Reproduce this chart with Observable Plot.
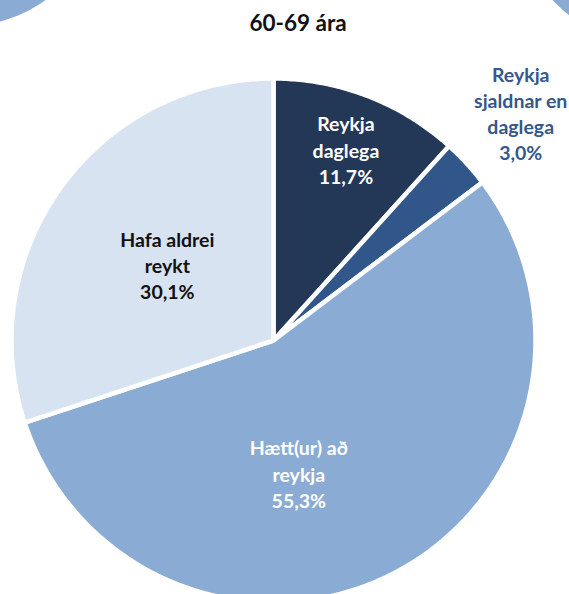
<!DOCTYPE html>
<html>
<head>
<meta charset="utf-8">
<script src="https://cdn.jsdelivr.net/npm/d3@7"></script>
<script src="https://cdn.jsdelivr.net/npm/@observablehq/plot@0.6"></script>
<style>
  html, body { margin: 0; padding: 0; background: #fff; }
  #wrap { position: relative; width: 569px; height: 594px; overflow: hidden; }
  .deco { position: absolute; border-radius: 50%; background: #8aabd3; }
  #chart { position: absolute; left: 0; top: 0; }
</style>
</head>
<body>
<div id="wrap">
  <div class="deco" style="left:-157px; top:-229px; width:254px; height:254px;"></div>
  <div class="deco" style="left:522px; top:-200px; width:240px; height:240px;"></div>
  <div id="chart"></div>
</div>
<script>
const title = "60-69 ára";
const categories = ["Reykja daglega", "Reykja sjaldnar en daglega", "Hætt(ur) að reykja", "Hafa aldrei reykt"];
const values = [11.7, 3.0, 55.3, 30.1];
const labels = ["Reykja\ndaglega\n11,7%", "Reykja\nsjaldnar en\ndaglega\n3,0%", "Hætt(ur) að\nreykja\n55,3%", "Hafa aldrei\nreykt\n30,1%"];
const colors = ["#233757", "#30568a", "#8aabd3", "#d7e3f0"];
const labelColors = ["#ffffff", "#34588a", "#ffffff", "#111111"];
const labelRadius = [0.77, 1.27, 0.52, 0.5];
const labelDx = [0, 2, -38, 0];
const labelDy = [-3, -3, 12, 1];

const pie = d3.pie().sort(null).value(d => d.value);
const arcs = pie(categories.map((c, i) => ({cat: c, value: values[i], i})));

// polygon points for each slice (unit circle, angle clockwise from top)
const poly = [];
for (const a of arcs) {
  poly.push({cat: a.data.cat, x: 0, y: 0});
  const n = Math.max(4, Math.ceil((a.endAngle - a.startAngle) / 0.01));
  for (let k = 0; k <= n; k++) {
    const t = a.startAngle + (a.endAngle - a.startAngle) * k / n;
    poly.push({cat: a.data.cat, x: Math.sin(t), y: Math.cos(t)});
  }
  poly.push({cat: a.data.cat, x: 0, y: 0});
}

const labelData = arcs.map((a, i) => {
  const m = (a.startAngle + a.endAngle) / 2;
  return {i, text: labels[i], x: Math.sin(m) * labelRadius[i], y: Math.cos(m) * labelRadius[i]};
});

const cx = 273, cy = 340, R = 262;
const font = "Lato, 'Open Sans', sans-serif";

const textMarks = labelData.map(d => Plot.text([d], {
  x: "x", y: "y", text: "text",
  fill: labelColors[d.i], fontSize: 19.5, fontWeight: "bold",
  lineHeight: 1.34, dx: labelDx[d.i], dy: labelDy[d.i],
  fontFamily: font
}));

const chart = Plot.plot({
  width: 569, height: 594,
  margin: 0,
  style: {background: "transparent", fontFamily: font},
  x: {domain: [-1, 1], range: [cx - R, cx + R], axis: null},
  y: {domain: [-1, 1], range: [cy + R, cy - R], axis: null},
  color: {domain: categories, range: colors},
  marks: [
    Plot.line(poly, {x: "x", y: "y", z: "cat", fill: "cat", stroke: "white", strokeWidth: 4.5, strokeLinejoin: "round", curve: "linear"}),
    ...textMarks,
    Plot.text([title], {text: d => d, frameAnchor: "top", dx: 13, dy: 15, fontSize: 22.5, fontWeight: "bold", fill: "#111", fontFamily: font})
  ]
});
document.getElementById("chart").appendChild(chart);
</script>
</body>
</html>
